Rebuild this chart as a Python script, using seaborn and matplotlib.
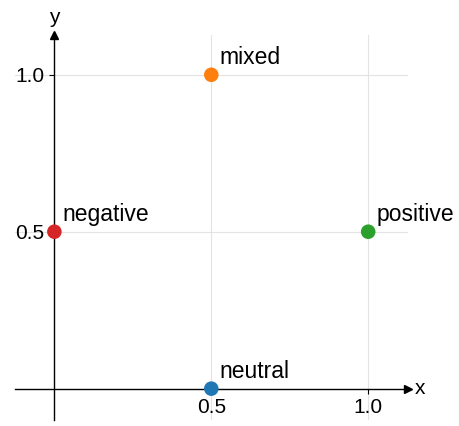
import matplotlib
matplotlib.use("Agg")
import matplotlib.pyplot as plt
import pandas as pd
import seaborn as sns

# data
labels = ["neutral", "mixed", "negative", "positive"]
x_vals = [0.5, 0.5, 0.0, 1.0]
y_vals = [0.0, 1.0, 0.5, 0.5]
colors = ["#1f77b4", "#ff7f0e", "#d62728", "#2ca02c"]
ticks = [0.5, 1.0]

df = pd.DataFrame({"x": x_vals, "y": y_vals, "label": labels})

sns.set_style("ticks")
plt.rcParams["font.family"] = ["Liberation Sans", "DejaVu Sans"]
plt.rcParams["text.color"] = "black"
plt.rcParams["xtick.color"] = "black"
plt.rcParams["ytick.color"] = "black"

fig = plt.figure(figsize=(4.59, 4.26), dpi=100)
ax = fig.add_axes([0.033, 0.014, 0.856, 0.904])

sns.scatterplot(
    data=df, x="x", y="y", hue="label",
    palette=dict(zip(labels, colors)),
    s=110, edgecolor="none", legend=False, zorder=5, clip_on=False, ax=ax
)

for lx, ly, lab in zip(x_vals, y_vals, labels):
    ax.annotate(lab, (lx, ly), xytext=(6, 4), textcoords="offset points",
                fontsize=16.5, ha="left", va="bottom", color="black")

ax.set_xlim(-0.125, 1.127)
ax.set_ylim(-0.1, 1.127)
ax.set_xticks(ticks)
ax.set_yticks(ticks)
ax.set_xticklabels([f"{t:.1f}" for t in ticks])
ax.set_yticklabels([f"{t:.1f}" for t in ticks])
ax.tick_params(labelsize=15, length=3.5, width=0.8, colors="black")
ax.grid(True, color="#e3e3e3", linewidth=0.8)
ax.set_axisbelow(True)

ax.spines["left"].set_position(("data", 0))
ax.spines["bottom"].set_position(("data", 0))
ax.spines["top"].set_visible(False)
ax.spines["right"].set_visible(False)
ax.spines["left"].set_linewidth(1.0)
ax.spines["bottom"].set_linewidth(1.0)
ax.spines["left"].set_color("black")
ax.spines["bottom"].set_color("black")

# arrow heads
ax.plot(1, 0, ">k", markersize=6, transform=ax.get_yaxis_transform(), clip_on=False)
ax.plot(0, 1, "^k", markersize=6, transform=ax.get_xaxis_transform(), clip_on=False)

ax.set_xlabel("")
ax.set_ylabel("")
ax.text(1.03, 0, "x", transform=ax.get_yaxis_transform(), fontsize=15,
        ha="center", va="center", color="black")
ax.text(0, 1.045, "y", transform=ax.get_xaxis_transform(), fontsize=15,
        ha="center", va="center", color="black")

fig.savefig("out.png", dpi=100)
